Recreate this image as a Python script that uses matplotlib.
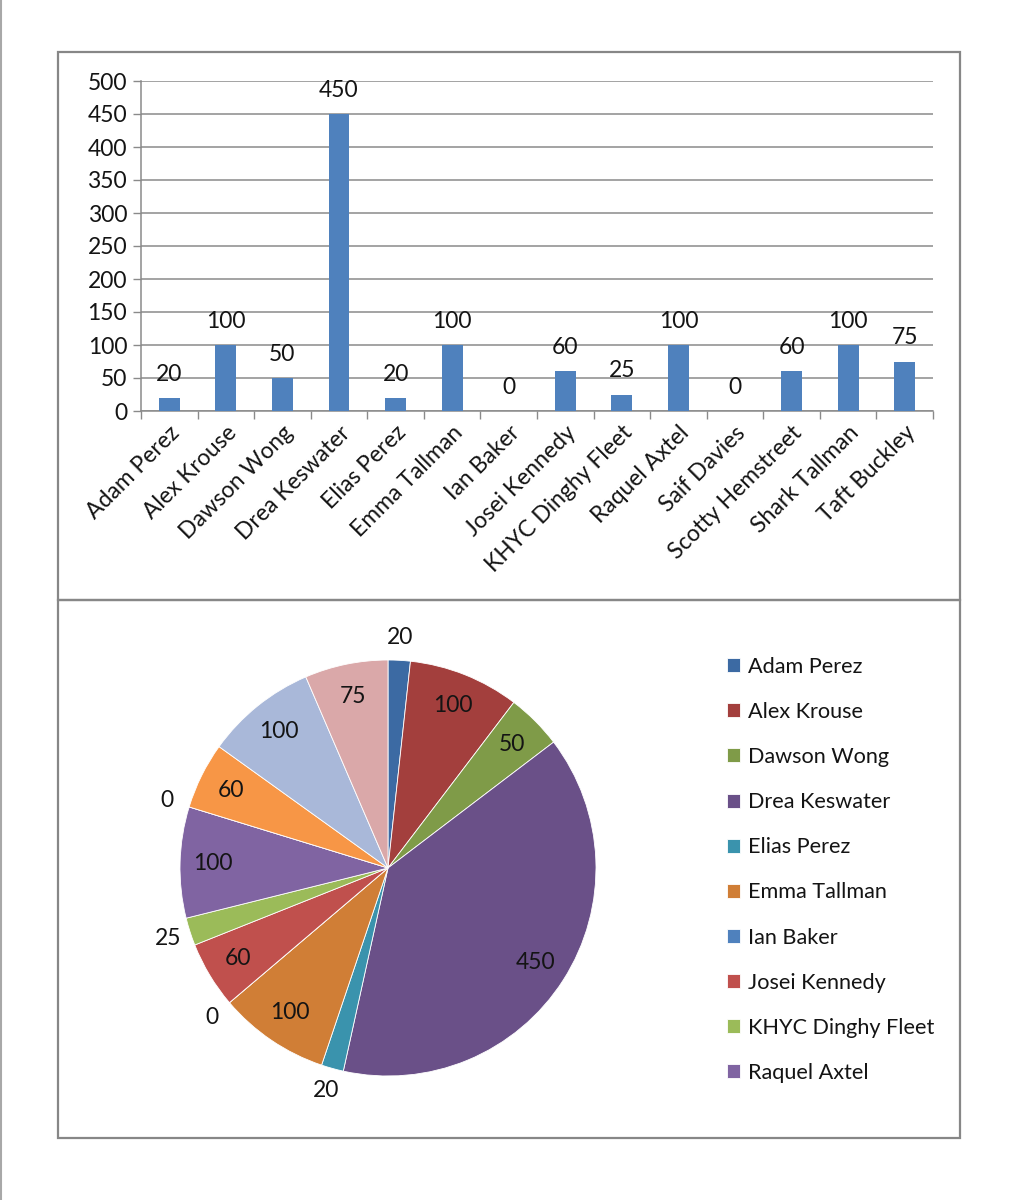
import matplotlib
matplotlib.use('Agg')
import matplotlib.pyplot as plt
from matplotlib.patches import Rectangle
from matplotlib.lines import Line2D
import numpy as np

plt.rcParams['font.family'] = ['Lato', 'DejaVu Sans']

# data
names = ['Adam Perez', 'Alex Krouse', 'Dawson Wong', 'Drea Keswater', 'Elias Perez',
         'Emma Tallman', 'Ian Baker', 'Josei Kennedy', 'KHYC Dinghy Fleet', 'Raquel Axtel',
         'Saif Davies', 'Scotty Hemstreet', 'Shark Tallman', 'Taft Buckley']
values = [20, 100, 50, 450, 20, 100, 0, 60, 25, 100, 0, 60, 100, 75]
pie_colors = ['#3C6AA3', '#A33F3D', '#7F9B48', '#6A5088', '#3A93AD', '#D07E36', '#4F81BD',
              '#C0504D', '#9BBB59', '#8064A2', '#4BACC6', '#F79646', '#A9B8D9', '#DAA8A9']
yticks = list(range(0, 501, 50))

FS = 16.5
TXT = '#141414'
W, H = 1020, 1200
fig = plt.figure(figsize=(W / 100, H / 100), dpi=100)
fig.patch.set_facecolor('white')

# frames
def box(x0, y0, x1, y1):
    fig.add_artist(Rectangle((x0 / W, 1 - y1 / H), (x1 - x0) / W, (y1 - y0) / H,
                             transform=fig.transFigure, fill=False,
                             edgecolor='#878787', lw=1.6))
box(58, 52, 960, 600)
box(58, 600, 960, 1138)
fig.add_artist(Line2D([1.5 / W, 1.5 / W], [0, 1], transform=fig.transFigure,
                      color='#a8a8a8', lw=1.5))

# bar chart
ax = fig.add_axes([141 / W, 1 - 411 / H, (933 - 141) / W, (411 - 81) / H])
x = np.arange(len(names))
ax.bar(x, values, width=0.37, color='#4F81BD', zorder=3)
ax.set_xlim(-0.5, len(names) - 0.5)
ax.set_ylim(0, 500)
ax.set_yticks(yticks)
ax.yaxis.grid(True, color='#8a8a8a', lw=1.1, zorder=0)
ax.tick_params(axis='y', labelsize=FS, length=6, width=1, color='#8a8a8a', pad=4,
               labelcolor=TXT)
ax.set_xticks(x)
ax.set_xticklabels(names, rotation=45, ha='right', va='top', rotation_mode='anchor',
                   fontsize=FS, color=TXT)
ax.tick_params(axis='x', which='major', length=0, pad=8)
ax.set_xticks(np.arange(-0.5, len(names), 1), minor=True)
ax.tick_params(axis='x', which='minor', length=6, width=1, color='#8a8a8a')
for s in ['top', 'right']:
    ax.spines[s].set_visible(False)
for s in ['left', 'bottom']:
    ax.spines[s].set_color('#8a8a8a')
    ax.spines[s].set_linewidth(1.1)
for xi, v in zip(x, values):
    ax.annotate(str(v), (xi, v), xytext=(0, 17), textcoords='offset points',
                ha='center', va='center', fontsize=FS, color=TXT)

# pie chart
r = 208
pax = fig.add_axes([(388 - r) / W, 1 - (868 + r) / H, 2 * r / W, 2 * r / H])
wedges, _ = pax.pie(values, colors=pie_colors, startangle=90, counterclock=False,
                    radius=1, wedgeprops=dict(edgecolor='white', linewidth=0.6))
pax.set_xlim(-1, 1)
pax.set_ylim(-1, 1)
pax.set_aspect('equal')
pax.axis('off')
total = sum(values)
for w, v in zip(wedges, values):
    ang = np.deg2rad((w.theta1 + w.theta2) / 2)
    rr = 0.84 if v / total > 0.03 else 1.11
    pax.text(rr * np.cos(ang), rr * np.sin(ang), str(v), ha='center', va='center',
             fontsize=FS, color=TXT)

fig.legend(wedges[:10], names[:10], loc='upper left',
           bbox_to_anchor=(716 / W, 1 - 646 / H), frameon=False, fontsize=15.6,
           handlelength=0.62, handleheight=0.62, handletextpad=0.35, labelspacing=1.16,
           borderpad=0, labelcolor=TXT)

fig.savefig('out.png', dpi=100, facecolor='white')
